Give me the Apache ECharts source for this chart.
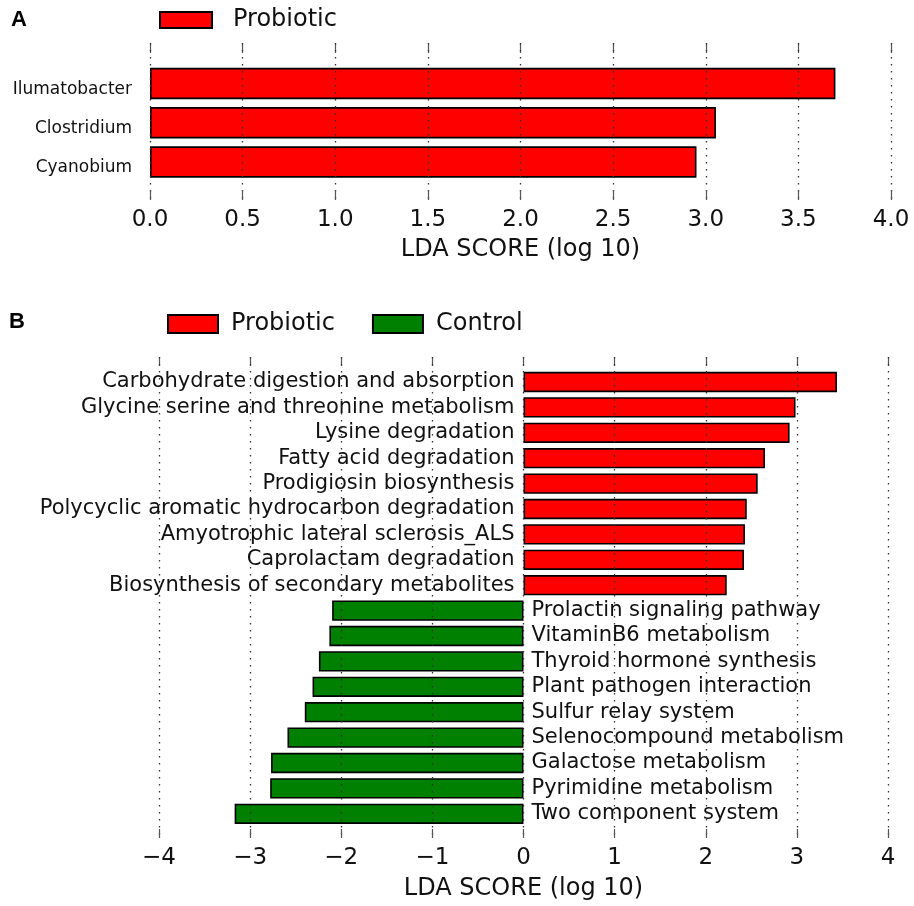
<!DOCTYPE html>
<html>
<head>
<meta charset="utf-8">
<script src="https://cdn.jsdelivr.net/npm/echarts@6/dist/echarts.min.js"></script>
<style>html,body{margin:0;padding:0;background:#fff;}#c{width:914px;height:906px;}</style>
</head>
<body>
<div id="c"></div>
<script>
// Panel A data
var catsA = ['Ilumatobacter', 'Clostridium', 'Cyanobium'];
var valsA = [3.70, 3.055, 2.95];
var ticksA = [0, 0.5, 1, 1.5, 2, 2.5, 3, 3.5, 4];

// Panel B data
var probioticCats = ['Carbohydrate digestion and absorption', 'Glycine serine and threonine metabolism',
  'Lysine degradation', 'Fatty acid degradation', 'Prodigiosin biosynthesis',
  'Polycyclic aromatic hydrocarbon degradation', 'Amyotrophic lateral sclerosis_ALS',
  'Caprolactam degradation', 'Biosynthesis of secondary metabolites'];
var probioticVals = [3.44, 2.985, 2.92, 2.65, 2.57, 2.45, 2.43, 2.42, 2.23];
var controlCats = ['Prolactin signaling pathway', 'VitaminB6 metabolism', 'Thyroid hormone synthesis',
  'Plant pathogen interaction', 'Sulfur relay system', 'Selenocompound metabolism',
  'Galactose metabolism', 'Pyrimidine metabolism', 'Two component system'];
var controlVals = [-2.10, -2.13, -2.245, -2.315, -2.40, -2.59, -2.77, -2.78, -3.17];
var ticksB = [-4, -3, -2, -1, 0, 1, 2, 3, 4];

var catsB = probioticCats.concat(controlCats);
var probSeries = probioticVals.concat(controlCats.map(function(){return null;}));
var ctrlSeries = probioticCats.map(function(){return null;}).concat(controlVals);

var FONT = 'DejaVu Sans';
var RED = '#ff0000', GREEN = '#008000';
var tickStyle = {show: true, inside: true, length: 10, lineStyle: {color: '#555', width: 1.2}};
var tickStyleB = {show: true, inside: true, length: 9, lineStyle: {color: '#555', width: 1.2}};
var gridLine = {show: true, lineStyle: {type: [1.5, 5.5], color: '#333', width: 1.3}};

var chart = echarts.init(document.getElementById('c'), null, {renderer: 'canvas'});
chart.setOption({
  backgroundColor: '#fff',
  animation: false,
  textStyle: {fontFamily: FONT},
  title: [
    {text: 'A', left: 6, top: 4, padding: 5, textStyle: {fontFamily: 'Liberation Sans', fontWeight: 'bold', fontSize: 22, color: '#000'}},
    {text: 'B', left: 4, top: 306, padding: 5, textStyle: {fontFamily: 'Liberation Sans', fontWeight: 'bold', fontSize: 22, color: '#000'}}
  ],
  legend: [
    {data: ['Probiotic'], left: 154, top: 3, itemWidth: 52, itemHeight: 16, icon: 'rect',
     textStyle: {fontFamily: FONT, fontSize: 24, color: '#111', padding: [0, 0, 0, 16]}},
    {data: ['Probiotic', 'Control'], left: 162, top: 307, itemWidth: 50, itemHeight: 18, itemGap: 37, icon: 'rect',
     textStyle: {fontFamily: FONT, fontSize: 24, color: '#111', padding: [0, 0, 0, 8]}}
  ],
  grid: [
    {left: 150, right: 23, top: 43, height: 157},          // 0 frame A
    {left: 150, right: 23, top: 63.9, height: 117.7},      // 1 bars A
    {left: 159, right: 26, top: 357, height: 482},         // 2 frame B
    {left: 159, right: 26, top: 369.3, height: 457.2}      // 3 bars B
  ],
  xAxis: [
    {gridIndex: 0, type: 'value', min: 0, max: 4, interval: 0.5, position: 'bottom', z: 3,
     axisLine: {show: false}, axisTick: tickStyle, splitLine: gridLine,
     axisLabel: {fontSize: 23, color: '#111', margin: 9, fontFamily: FONT,
       formatter: function(v){ return v.toFixed(1); }},
     name: 'LDA SCORE (log 10)', nameLocation: 'middle', nameGap: 38,
     nameTextStyle: {fontSize: 24, color: '#111', fontFamily: FONT}},
    {gridIndex: 0, type: 'value', min: 0, max: 4, interval: 0.5, position: 'top',
     axisLine: {show: false}, axisTick: tickStyle, splitLine: {show: false}, axisLabel: {show: false}},
    {gridIndex: 1, type: 'value', min: 0, max: 4, show: false},
    {gridIndex: 2, type: 'value', min: -4, max: 4, interval: 1, position: 'bottom', z: 3,
     axisLine: {show: false}, axisTick: tickStyleB,
     splitLine: gridLine,
     axisLabel: {fontSize: 23, color: '#111', margin: 9, fontFamily: FONT,
       formatter: function(v){ return String(v).replace('-', '\u2212'); }},
     name: 'LDA SCORE (log 10)', nameLocation: 'middle', nameGap: 39,
     nameTextStyle: {fontSize: 24, color: '#111', fontFamily: FONT}},
    {gridIndex: 2, type: 'value', min: -4, max: 4, interval: 1, position: 'top',
     axisLine: {show: false}, axisTick: tickStyleB,
     splitLine: {show: false}, axisLabel: {show: false}},
    {gridIndex: 3, type: 'value', min: -4, max: 4, show: false}
  ],
  yAxis: [
    {gridIndex: 0, type: 'value', show: false},
    {gridIndex: 1, type: 'category', data: catsA, inverse: true,
     axisLine: {show: false}, axisTick: {show: false},
     axisLabel: {fontSize: 17, color: '#111', margin: 18, fontFamily: FONT, verticalAlign: 'top', lineHeight: 12}},
    {gridIndex: 2, type: 'value', show: false},
    {gridIndex: 3, type: 'category', data: catsB, inverse: true, show: false}
  ],
  series: [
    {name: 'Probiotic', type: 'bar', xAxisIndex: 2, yAxisIndex: 1, data: valsA, barWidth: '80%',
     itemStyle: {color: RED, borderColor: '#000', borderWidth: 1.6}},
    {name: 'Probiotic', type: 'bar', xAxisIndex: 5, yAxisIndex: 3, data: probSeries, barWidth: '80%', barGap: '-100%',
     itemStyle: {color: RED, borderColor: '#000', borderWidth: 1.6},
     label: {show: true, position: 'left', distance: 9, formatter: '{b}', fontSize: 21, color: '#111', fontFamily: FONT}},
    {name: 'Control', type: 'bar', xAxisIndex: 5, yAxisIndex: 3, data: ctrlSeries, barWidth: '80%', barGap: '-100%',
     itemStyle: {color: GREEN, borderColor: '#000', borderWidth: 1.6},
     label: {show: true, position: 'right', distance: 8, formatter: '{b}', fontSize: 21, color: '#111', fontFamily: FONT}}
  ]
});
</script>
</body>
</html>
